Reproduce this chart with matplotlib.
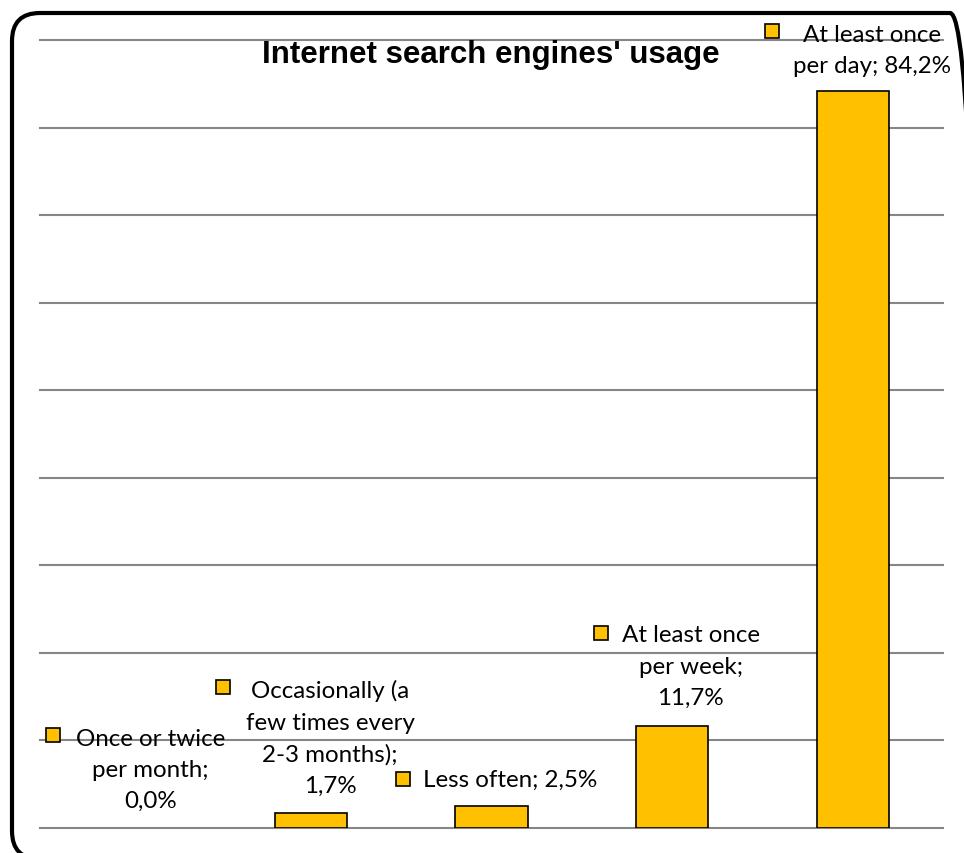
import matplotlib
matplotlib.use("Agg")
import matplotlib.pyplot as plt
from matplotlib.patches import FancyBboxPatch
from matplotlib.transforms import IdentityTransform

categories = ["Once or twice\nper month;", "Occasionally (a\nfew times every\n2-3 months);",
              "Less often;", "At least once\nper week;", "At least once\nper day;"]
values = [0.0, 1.7, 2.5, 11.7, 84.2]
value_labels = ["0,0%", "1,7%", "2,5%", "11,7%", "84,2%"]

# label text centres and legend-key positions (data coords)
label_pos = [(0.11, 6.7), (1.106, 10.34), (2.105, 5.6), (3.102, 18.5), (4.107, 88.85)]
key_pos = [(-0.428, 10.62), (0.513, 16.1), (1.51, 5.6), (2.606, 22.27), (3.553, 91.0)]

bar_color = "#FFC000"
font = "Lato"

fig = plt.figure(figsize=(9.64, 8.54), dpi=100)
ax = fig.add_axes([40 / 964, 25 / 854, 903 / 964, 788 / 854])

x = list(range(len(values)))
edge_w = [1.2 if v > 0 else 0 for v in values]
ax.bar(x, values, width=0.4, color=bar_color, edgecolor="black", linewidth=edge_w, zorder=3)

ax.set_xlim(-0.5, 4.5)
ax.set_ylim(0, 90)
ax.set_yticks(range(0, 91, 10))
ax.grid(axis="y", color="#868686", linewidth=1.5, zorder=0)
for gl in ax.get_ygridlines():
    gl.set_clip_on(False)
ax.tick_params(left=False, bottom=False, labelleft=False, labelbottom=False)
for s in ax.spines.values():
    s.set_visible(False)

for i in x:
    if i == 2 or i == 4:
        txt = categories[i] + " " + value_labels[i]
    else:
        txt = categories[i] + "\n" + value_labels[i]
    lx, ly = label_pos[i]
    ax.text(lx, ly, txt, ha="center", va="center", multialignment="center",
            fontsize=17.4, family=font, linespacing=1.6, zorder=4, clip_on=False)
    kx, ky = key_pos[i]
    ax.plot([kx], [ky], marker="s", markersize=10.5, markerfacecolor=bar_color,
            markeredgecolor="black", markeredgewidth=1.2, linestyle="none",
            zorder=4, clip_on=False)

fig.text(491 / 964, (854 - 55) / 854, "Internet search engines' usage",
         ha="center", va="center", fontsize=22.5, fontweight="bold",
         family="Liberation Sans")

frame = FancyBboxPatch((12, -6), 966, 846, boxstyle="round,pad=0,rounding_size=28",
                       transform=IdentityTransform(), facecolor="none",
                       edgecolor="black", linewidth=3)
fig.patches.append(frame)

fig.savefig("out.png", dpi=100)
